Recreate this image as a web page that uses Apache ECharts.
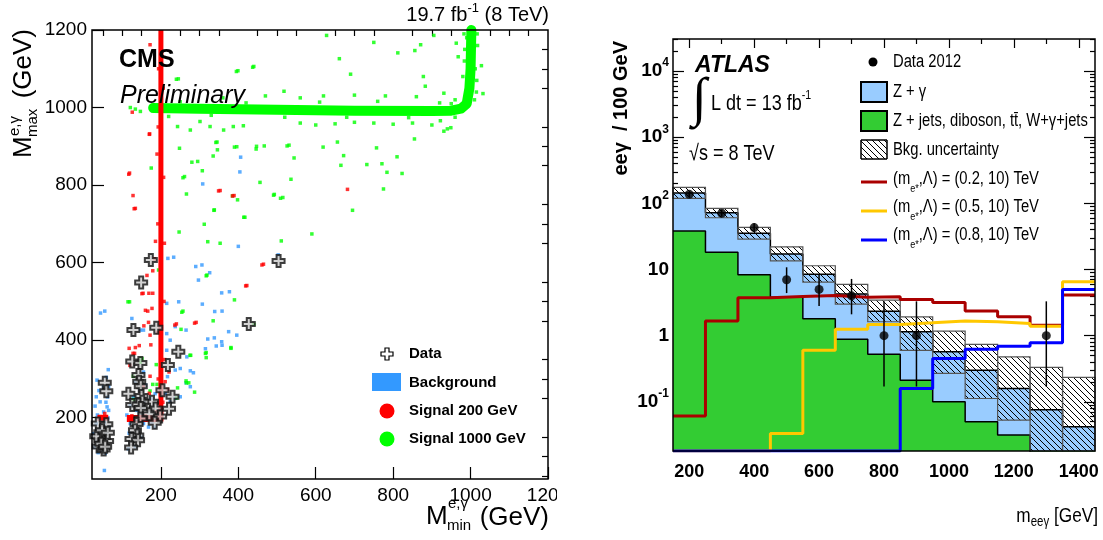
<!DOCTYPE html>
<html>
<head>
<meta charset="utf-8">
<script src="https://cdn.jsdelivr.net/npm/echarts@6.0.0/dist/echarts.min.js"></script>
<style>
html, body { margin: 0; padding: 0; background: #fff; }
#chart { width: 1103px; height: 540px; }
</style>
</head>
<body>
<div id="chart"></div>
<script>
// ---------- left panel : CMS scatter ----------
const cmsMajorTicks = [200, 400, 600, 800, 1000, 1200];
const cmsMinorTicks = [50, 100, 150, 250, 300, 350, 450, 500, 550, 650, 700, 750, 850, 900, 950, 1050, 1100, 1150];

// data events (open crosses)
const cmsData = [[174,607],[504,604],[149,549],[129,426],[188,432],[427,442],[245,370],[126,345],[147,341],[218,336],
  [142,310],[144,293],[148,281],[204,271],[230,254],[221,223],[177,241],[150,256],[152,241],[116,262],[126,233],
  [142,234],[148,225],[186,224],[170,209],[198,203],[184,187],[147,198],[137,184],[133,168],[139,154],[124,145],
  [141,142],[123,123],[55,290],[59,268],[37,185],[59,183],[43,151],[61,140],[39,126],[52,118],[33,152],[48,168],
  [46,133],[63,161],[56,125]];

// background MC
const cmsBackground = [[35,297],[59,304],[64,324],[52,280],[33,254],[62,254],[43,241],[61,228],[52,215],[65,219],
  [36,207],[26,159],[65,176],[59,164],[35,138],[62,125],[48,116],[28,125],[56,108],[54,64],[65,280],[54,187],[42,168],
  [33,185],[61,149],[112,207],[121,185],[128,151],[116,120],[134,125],[142,168],[155,185],[168,176],[177,189],[166,202],
  [138,219],[155,228],[121,232],[175,250],[185,262],[129,254],[147,271],[160,284],[134,293],[155,318],[125,456],[184,176],
  [211,262],[224,241],[237,250],[250,254],[217,306],[237,323],[250,327],[276,321],[284,316],[265,290],[276,280],[215,374],
  [267,357],[215,417],[224,400],[147,426],[155,426],[265,426],[237,435],[246,499],[215,495],[306,594],[297,555],[307,493],
  [377,525],[358,475],[396,413],[338,406],[358,387],[315,378],[375,422],[357,396],[326,574],[233,614],[55,475],[290,590],
  [357,522],[339,474],[321,403],[343,385],[404,834],[406,872],[400,642],[503,620],[308,803],[218,611],[44,470],
  [30,230],[45,200],[58,240],[40,270],[63,200],[50,150],[38,110],[118,160],[130,200],[150,150],[160,240],[145,210]];

// signal 200 GeV : dense band + scattered points
const sig200BandV = [[200,190],[200,1200]];
const sig200BandH = [[112,198],[198,198]];
const sig200BandLow = [[36,200],[64,200]];
const sig200Points = [[126,988],[170,931],[117,828],[128,773],[131,739],[385,772],[349,785],[419,540],[461,594],[682,789],
  [287,444],[236,439],[151,520],[160,477],[156,437],[174,388],[128,366],[120,335],[168,446],[179,579],[183,610],[186,655],
  [170,263],[172,1162],[465,596],[422,541],[291,446],[240,442],[164,567],[154,521],[166,475],[177,482],[172,413],[118,379],
  [134,381],[144,386],[132,366],[169,521],[179,521],[221,318],[217,273],[155,280],[55,211],[172,307],[211,293],[353,786],
  [389,773],[119,831],[134,740],[171,932],[192,700],[207,820],[193,950],[208,500],[191,420],[209,650],[194,1100],[206,1050],
  [190,880],[210,350],[193,300],[205,240],[188,215],[160,205],[140,190],[125,205],[180,193]];

// signal 1000 GeV : dense L-shaped band + scattered points
const sig1000Band = [[180,999],[300,997],[500,994],[700,992],[900,991],[950,992],[975,997],[990,1010],[997,1050],[1000,1100],[1002,1200]];
const sig1000Points = [[628,1186],[750,1168],[812,1141],[856,1147],[871,1162],[905,1186],[661,1126],[437,1104],[395,1093],
  [690,1086],[878,1080],[240,1073],[883,1055],[968,1131],[1028,1108],[1032,1036],[997,1189],[963,1166],[931,1037],[280,859],
  [342,910],[390,898],[447,900],[335,875],[257,819],[266,777],[307,837],[385,772],[491,774],[509,766],[536,815],[544,870],
  [526,901],[619,898],[656,911],[672,876],[665,851],[732,853],[757,896],[771,855],[784,833],[810,873],[823,830],[775,790],
  [695,735],[590,674],[511,656],[414,717],[398,762],[337,735],[312,699],[247,679],[321,654],[353,650],[317,566],[254,472],
  [275,361],[315,366],[381,379],[266,290],[243,277],[147,343],[115,499],[179,286],[151,352],[390,504],[335,450],[440,441],
  [287,266],[931,939],[949,948],[922,966],[855,919],[194,581],[319,568],[119,499],[257,475],[252,428],[381,381],[317,368],
  [317,355],[277,361],[149,353],[188,337],[129,307],[190,286],[265,295],[272,290],[241,251],[129,247],[172,269],[399,1095],
  [440,1106],[245,1074],[396,899],[248,895],[295,861],[345,911],[346,891],[446,893],[467,901],[531,903],[456,807],[493,776],
  [515,768],[338,736],[417,717],[175,844],[261,822],[518,1042],[220,977],[243,951],[276,942],[301,964],[327,951],[362,942],
  [387,951],[413,953],[134,996],[147,990],[121,1000],[560,960],[600,955],[650,958],[700,962],[750,960],[800,957],[850,960],
  [900,955],[940,945],[620,1030],[700,1032],[780,1030],[860,1028],[470,1030],[360,1025],[560,1025],[950,1010],[960,1020],
  [1015,1040],[1012,1100],[1018,1160],[985,1150],[990,1180],[980,1080],[1010,1020],[250,1015],[330,980],[420,1012],
  [520,975],[610,1014],[680,975],[760,1016],[840,974],[920,1012],[960,975],[1016,1070],[984,1120],[1017,1190],[983,1190]];

// ---------- right panel : ATLAS m(eeγ) ----------
const binCenters = [200, 300, 400, 500, 600, 700, 800, 900, 1000, 1100, 1200, 1300, 1400];
const atlasXMajor = [200, 400, 600, 800, 1000, 1200, 1400];
const atlasXMinor = [300, 500, 700, 900, 1100, 1300];
const atlasYLabels = [0.1, 1, 10, 100, 1000, 10000];

const otherBkg = [38.1, 18.3, 8.3, 3.8, 1.8, 0.88, 0.525, 0.212, 0.100, 0.0497, 0.0313, 0.015, 0.012];
const zGamma   = [106, 54, 27, 13.3, 6.7, 3.37, 1.82, 0.93, 0.47, 0.25, 0.128, 0.061, 0.030];
const bkgErrLo = [119, 60.6, 28.8, 13.5, 6.45, 3.0, 1.62, 0.60, 0.268, 0.112, 0.0527, 0.01, 0.01];
const bkgErrHi = [175, 84, 43.4, 22.0, 11.4, 5.95, 3.44, 1.92, 1.17, 0.736, 0.478, 0.330, 0.233];
const sigM02 = [0.061, 1.66, 3.73, 3.92, 4.06, 3.82, 3.86, 3.53, 3.18, 2.35, 1.93, 1.44, 4.1];
const sigM05 = [0.018, 0.018, 0.018, 0.033, 0.60, 1.25, 1.47, 1.56, 1.67, 1.62, 1.53, 1.39, 6.5];
const sigM08 = [0.018, 0.018, 0.018, 0.018, 0.018, 0.018, 0.018, 0.159, 0.45, 0.62, 0.69, 0.78, 5.0];
const dataCounts = [137, 71, 43, 7, 5, 4, 1, 1, 0, 0, 0, 1, 0];
const dataErrLo  = [125, 63, 37, 4.4, 2.8, 2.1, 0.17, 0.17, 0, 0, 0, 0.17, 0];
const dataErrHi  = [149, 80, 50, 10.8, 8.4, 7.2, 3.3, 3.3, 0, 0, 0, 3.3, 0];

const atlasYMinor = [];
[-2, -1, 0, 1, 2, 3, 4].forEach(function (e) {
  for (let m = 2; m <= 9; m++) {
    const v = m * Math.pow(10, e);
    if (v > 0.018 && v < 30600) atlasYMinor.push(v);
  }
});

const CMS_FONT = "'Liberation Sans', Arial, sans-serif";
const NARROW = 0.82;   // no narrow font installed: squeeze Liberation Sans

// hatch pattern  \\\
const hatchCanvas = (function () {
  const c = document.createElement('canvas');
  c.width = 6; c.height = 6;
  const g = c.getContext('2d');
  g.strokeStyle = '#000';
  g.lineWidth = 1;
  g.beginPath();
  for (let k = -6; k <= 6; k += 6) { g.moveTo(k, 0); g.lineTo(k + 6, 6); }
  g.stroke();
  return c;
})();
const hatchFill = { image: hatchCanvas, repeat: 'repeat' };

function stepPoints(vals) {
  const pts = binCenters.map(function (c, i) { return [c - 50, vals[i]]; });
  pts.push([binCenters[binCenters.length - 1] + 50, vals[vals.length - 1]]);
  return pts;
}
const bkgTotal = otherBkg.map(function (v, i) { return v + zGamma[i]; });
const bandData = binCenters.map(function (c, i) { return [c - 50, c + 50, bkgErrLo[i], bkgErrHi[i]]; });
const dataPoints = [], dataBars = [];
binCenters.forEach(function (c, i) {
  if (dataCounts[i] > 0) {
    dataPoints.push([c, dataCounts[i]]);
    dataBars.push([c, dataErrLo[i], dataErrHi[i]]);
  }
});

function powLabel(v) {
  const e = Math.round(Math.log10(v));
  if (e === 0) return '1';
  if (e === 1) return '10';
  return '10{s|' + e + '}';
}
function plain(v) { return String(v); }

const crossPath = 'path://M4,0H8V4H12V8H8V12H4V8H0V4H4Z';
const tickStyle = { color: '#000', width: 1.2 };

function cmsAxis(dim, ticks, len, labels) {
  const a = {
    gridIndex: 0, type: 'value',
    min: dim === 'x' ? 22 : 42, max: 1200,
    axisLine: { show: false },
    splitLine: { show: false },
    axisTick: { show: true, inside: true, length: len, customValues: ticks, lineStyle: tickStyle },
    axisLabel: { show: false }
  };
  if (labels) {
    a.axisLabel = { show: true, customValues: labels, formatter: plain, color: '#000', fontFamily: CMS_FONT,
      fontSize: 19, margin: dim === 'x' ? 7 : 5 };
  }
  return a;
}

function atlasX(pos, ticks, len, labels) {
  const a = {
    gridIndex: 1, type: 'value', position: pos, min: 150, max: 1450,
    axisLine: { show: false }, splitLine: { show: false },
    axisTick: { show: true, inside: true, length: len, customValues: ticks, lineStyle: tickStyle },
    axisLabel: { show: false }
  };
  if (labels) {
    a.axisLabel = { show: true, customValues: labels, formatter: plain, color: '#000', fontFamily: CMS_FONT,
      fontSize: 18, fontWeight: 'bold', margin: 12 };
  }
  return a;
}

function atlasY(pos, ticks, len, labels) {
  const a = {
    gridIndex: 1, type: 'log', logBase: 10, position: pos, min: 0.018, max: 30600,
    axisLine: { show: false }, splitLine: { show: false },
    axisTick: { show: true, inside: true, length: len, customValues: ticks, lineStyle: tickStyle },
    axisLabel: { show: false }
  };
  if (labels) {
    a.axisLabel = { show: true, customValues: labels, formatter: powLabel, color: '#000', fontFamily: CMS_FONT,
      fontSize: 19, fontWeight: 'bold', margin: 4, lineHeight: 28,
      rich: { s: { fontFamily: CMS_FONT, fontSize: 12, fontWeight: 'bold', lineHeight: 12, verticalAlign: 'top' } } };
  }
  return a;
}

function txt(x, y, text, font, align, extra, el) {
  const st = Object.assign({ text: text, font: font, fill: '#000', align: align || 'left', verticalAlign: 'middle',
    textAlign: align || 'left', textVerticalAlign: 'middle' }, extra || {});
  return Object.assign({ type: 'text', x: x, y: y, z: 110, style: st }, el || {});
}
// narrow ATLAS text
function ntxt(x, y, text, size, align, extra) {
  return txt(x, y, text, size + 'px ' + CMS_FONT, align, extra, { scaleX: NARROW });
}

const subRich = { fontFamily: CMS_FONT, fontSize: 11, lineHeight: 10, verticalAlign: 'bottom' };
const supRich = { fontFamily: CMS_FONT, fontSize: 13, lineHeight: 12, verticalAlign: 'top' };

const chart = echarts.init(document.getElementById('chart'), null, { renderer: 'canvas' });

const option = {
  animation: false,
  backgroundColor: '#fff',
  grid: [
    { left: 92, top: 30, width: 456, height: 449 },
    { left: 673, top: 39, width: 422, height: 412 }
  ],
  xAxis: [
    cmsAxis('x', cmsMajorTicks, 12, cmsMajorTicks),
    cmsAxis('x', cmsMinorTicks, 6, null),
    atlasX('bottom', atlasXMajor, 9, atlasXMajor),
    atlasX('bottom', atlasXMinor, 5, null),
    atlasX('top', atlasXMajor, 9, null),
    atlasX('top', atlasXMinor, 5, null)
  ],
  yAxis: [
    cmsAxis('y', cmsMajorTicks, 12, cmsMajorTicks),
    cmsAxis('y', cmsMinorTicks, 6, null),
    atlasY('left', atlasYLabels, 11, atlasYLabels),
    atlasY('left', atlasYMinor, 5, null),
    atlasY('right', atlasYLabels, 11, null),
    atlasY('right', atlasYMinor, 5, null)
  ],
  series: [
    // ---- CMS ----
    { type: 'scatter', z: 2, xAxisIndex: 0, yAxisIndex: 0, data: cmsBackground, symbol: 'rect', symbolSize: 3.5,
      itemStyle: { color: '#3399ff' } },
    { type: 'line', z: 3, xAxisIndex: 0, yAxisIndex: 0, data: sig1000Band, symbol: 'none',
      lineStyle: { color: '#00ff00', width: 10, cap: 'round', join: 'round' } },
    { type: 'scatter', z: 3, xAxisIndex: 0, yAxisIndex: 0, data: sig1000Points, symbol: 'rect', symbolSize: 3.5,
      itemStyle: { color: '#00ff00' } },
    { type: 'line', z: 4, xAxisIndex: 0, yAxisIndex: 0, data: sig200BandV, symbol: 'none',
      lineStyle: { color: '#ff0000', width: 5 } },
    { type: 'line', z: 4, xAxisIndex: 0, yAxisIndex: 0, data: sig200BandH, symbol: 'none',
      lineStyle: { color: '#ff0000', width: 7 } },
    { type: 'line', z: 4, xAxisIndex: 0, yAxisIndex: 0, data: sig200BandLow, symbol: 'none',
      lineStyle: { color: '#ff0000', width: 6 } },
    { type: 'scatter', z: 4, xAxisIndex: 0, yAxisIndex: 0, data: sig200Points, symbol: 'rect', symbolSize: 3.5,
      itemStyle: { color: '#ff0000' } },
    { type: 'scatter', z: 6, xAxisIndex: 0, yAxisIndex: 0, data: cmsData, symbol: crossPath, symbolSize: 12,
      itemStyle: { color: '#c8c8c8', borderColor: '#111', borderWidth: 2 } },

    // ---- ATLAS ----
    { type: 'line', z: 2, xAxisIndex: 2, yAxisIndex: 2, step: 'end', data: stepPoints(bkgTotal), symbol: 'none',
      lineStyle: { color: '#000', width: 1.5 }, areaStyle: { color: '#99ccff', opacity: 1, origin: 'start' } },
    { type: 'line', z: 2, xAxisIndex: 2, yAxisIndex: 2, step: 'end', data: stepPoints(otherBkg), symbol: 'none',
      lineStyle: { color: '#000', width: 1.5 }, areaStyle: { color: '#33cc33', opacity: 1, origin: 'start' } },
    { type: 'custom', z: 3, xAxisIndex: 2, yAxisIndex: 2, data: bandData,
      encode: { x: [0, 1], y: [2, 3] },
      renderItem: function (params, api) {
        const p0 = api.coord([api.value(0), api.value(3)]);
        const p1 = api.coord([api.value(1), api.value(2)]);
        const cs = params.coordSys;
        const r = echarts.graphic.clipRectByRect(
          { x: p0[0], y: p0[1], width: p1[0] - p0[0], height: p1[1] - p0[1] },
          { x: cs.x, y: cs.y, width: cs.width, height: cs.height });
        if (!r) return null;
        return { type: 'rect', shape: r, style: { fill: hatchFill, stroke: '#555', lineWidth: 1.2 } };
      } },
    { type: 'line', z: 4, xAxisIndex: 2, yAxisIndex: 2, step: 'end', data: stepPoints(sigM02), symbol: 'none',
      lineStyle: { color: '#aa0000', width: 3 } },
    { type: 'line', z: 4, xAxisIndex: 2, yAxisIndex: 2, step: 'end', data: stepPoints(sigM05), symbol: 'none',
      lineStyle: { color: '#ffc800', width: 3 } },
    { type: 'line', z: 4, xAxisIndex: 2, yAxisIndex: 2, step: 'end', data: stepPoints(sigM08), symbol: 'none',
      lineStyle: { color: '#0000ff', width: 3 } },
    { type: 'custom', z: 5, xAxisIndex: 2, yAxisIndex: 2, data: dataBars,
      encode: { x: 0, y: [1, 2] },
      renderItem: function (params, api) {
        const a = api.coord([api.value(0), api.value(1)]);
        const b = api.coord([api.value(0), api.value(2)]);
        return { type: 'line', shape: { x1: a[0], y1: a[1], x2: b[0], y2: b[1] },
          style: { stroke: '#000', lineWidth: 1.5 } };
      } },
    { type: 'scatter', z: 6, xAxisIndex: 2, yAxisIndex: 2, data: dataPoints, symbol: 'circle', symbolSize: 9,
      itemStyle: { color: '#000' } }
  ],
  graphic: [
    // frames
    { type: 'rect', z: 100, shape: { x: 92, y: 30, width: 456, height: 449 },
      style: { fill: 'none', stroke: '#000', lineWidth: 1.5 } },
    { type: 'rect', z: 100, shape: { x: 673, y: 39, width: 422, height: 412 },
      style: { fill: 'none', stroke: '#000', lineWidth: 1.5 } },
    // cut of the last CMS tick label, as in the source picture
    { type: 'rect', z: 105, shape: { x: 557, y: 482, width: 20, height: 24 }, style: { fill: '#fff' } },

    // ---- CMS texts ----
    txt(549, 15, '19.7 fb{s|-1} (8 TeV)', '20px ' + CMS_FONT, 'right',
      { lineHeight: 26, rich: { s: { fontFamily: CMS_FONT, fontSize: 13, lineHeight: 12, verticalAlign: 'top' } } }),
    txt(119, 60, 'CMS', 'bold 25px ' + CMS_FONT),
    txt(120, 96, 'Preliminary', 'italic 25px ' + CMS_FONT),
    { type: 'group', x: 426, y: 517, z: 110, children: [
      txt(0, 0, 'M', '26px ' + CMS_FONT),
      txt(22, -13, 'e,γ', '15px ' + CMS_FONT),
      txt(21, 9, 'min', '15px ' + CMS_FONT),
      txt(123, 1, '(GeV)', '26px ' + CMS_FONT, 'right')
    ] },
    { type: 'group', x: 24, y: 158, rotation: Math.PI / 2, z: 110, children: [
      txt(0, 0, 'M', '26px ' + CMS_FONT),
      txt(22, -9, 'e,γ', '15px ' + CMS_FONT),
      txt(21, 9, 'max', '15px ' + CMS_FONT),
      txt(129, 0, '(GeV)', '26px ' + CMS_FONT, 'right')
    ] },
    // CMS legend
    { type: 'polygon', z: 110, x: 387, y: 354, shape: { points: [[-2,-6],[2,-6],[2,-2],[6,-2],[6,2],[2,2],[2,6],[-2,6],[-2,2],[-6,2],[-6,-2],[-2,-2]] },
      style: { fill: '#fff', stroke: '#000', lineWidth: 1.2 } },
    txt(409, 354, 'Data', 'bold 15px ' + CMS_FONT),
    { type: 'rect', z: 110, shape: { x: 372, y: 373, width: 29, height: 18 }, style: { fill: '#3399ff' } },
    txt(409, 383, 'Background', 'bold 15px ' + CMS_FONT),
    { type: 'circle', z: 110, shape: { cx: 387, cy: 411, r: 7.5 }, style: { fill: '#ff0000' } },
    txt(409, 411, 'Signal 200 GeV', 'bold 15px ' + CMS_FONT),
    { type: 'circle', z: 110, shape: { cx: 387, cy: 439, r: 7.5 }, style: { fill: '#00ff00' } },
    txt(409, 439, 'Signal 1000 GeV', 'bold 15px ' + CMS_FONT),

    // ---- ATLAS texts ----
    txt(621, 41, 'eeγ  / 100 GeV', 'bold 20px ' + CMS_FONT, 'right', {}, { rotation: Math.PI / 2 }),
    ntxt(1098, 516, 'm{sub|eeγ} [GeV]', 21, 'right',
      { lineHeight: 26, rich: { sub: { fontFamily: CMS_FONT, fontSize: 14, lineHeight: 12, verticalAlign: 'bottom' } } }),
    txt(695, 66, 'ATLAS', 'bold italic 23px ' + CMS_FONT),
    txt(692, 101, '∫', '54px ' + "'Liberation Serif', 'DejaVu Serif', serif"),
    ntxt(711, 104, 'L dt = 13 fb{s|-1}', 22, 'left', { lineHeight: 30, rich: { s: supRich } }),
    ntxt(689, 154, '√s = 8 TeV', 22, 'left'),
    // ATLAS legend
    { type: 'circle', z: 110, shape: { cx: 873, cy: 62, r: 4.5 }, style: { fill: '#000' } },
    ntxt(893, 62, 'Data 2012', 18),
    { type: 'rect', z: 110, shape: { x: 861, y: 82, width: 26, height: 20 }, style: { fill: '#99ccff', stroke: '#000', lineWidth: 2 } },
    ntxt(893, 92, 'Z + γ', 18),
    { type: 'rect', z: 110, shape: { x: 861, y: 111, width: 26, height: 20 }, style: { fill: '#33cc33', stroke: '#000', lineWidth: 2 } },
    ntxt(893, 121, 'Z + jets, diboson, tt̄, W+γ+jets', 18),
    { type: 'rect', z: 110, shape: { x: 861, y: 140, width: 26, height: 19 }, style: { fill: '#fff', stroke: '#000', lineWidth: 1 } },
    { type: 'rect', z: 111, shape: { x: 861, y: 140, width: 26, height: 19 }, style: { fill: hatchFill, stroke: '#000', lineWidth: 1 } },
    ntxt(893, 150, 'Bkg. uncertainty', 18),
    { type: 'line', z: 110, shape: { x1: 861, y1: 182, x2: 887, y2: 182 }, style: { stroke: '#aa0000', lineWidth: 3 } },
    ntxt(893, 179, '(m{sub|e*},Λ) = (0.2, 10) TeV', 18, 'left', { lineHeight: 30, rich: { sub: subRich } }),
    { type: 'line', z: 110, shape: { x1: 861, y1: 211, x2: 887, y2: 211 }, style: { stroke: '#ffc800', lineWidth: 3 } },
    ntxt(893, 207, '(m{sub|e*},Λ) = (0.5, 10) TeV', 18, 'left', { lineHeight: 30, rich: { sub: subRich } }),
    { type: 'line', z: 110, shape: { x1: 861, y1: 240, x2: 887, y2: 240 }, style: { stroke: '#0000ff', lineWidth: 3 } },
    ntxt(893, 235, '(m{sub|e*},Λ) = (0.8, 10) TeV', 18, 'left', { lineHeight: 30, rich: { sub: subRich } })
  ]
};

chart.setOption(option);
</script>
</body>
</html>
